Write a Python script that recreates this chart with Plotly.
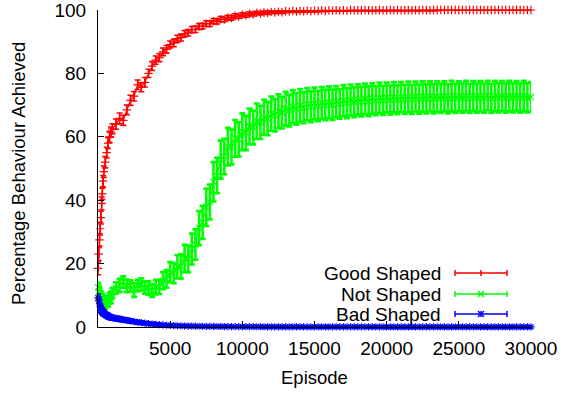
import plotly.graph_objects as go

# ---------------- data ----------------
episodes = [0, 50, 100, 150, 200, 250, 300, 350, 400, 500, 600, 700, 800, 900, 1000] + list(range(1250, 30001, 250))

good_mean = [
    18.5, 23.0, 27.5, 31.0, 34.5, 39.0, 42.0, 46.0, 49.0, 52.0, 55.0, 58.0, 60.0, 61.5, 62.5,
    64.0, 65.8, 65.2, 68.5, 71.5, 72.8, 76.4, 75.6, 77.2, 80.0,
    82.3, 84.2, 85.0, 86.8, 87.6, 89.1, 89.6, 90.9, 91.3, 92.5,
    92.8, 93.8, 93.9, 94.8, 94.9, 95.7, 95.7, 96.5, 96.4, 97.1,
    97.0, 97.6, 97.5, 98.1, 97.9, 98.5, 98.3, 98.8, 98.6, 99.1,
    98.9, 99.2, 99.1, 99.4, 99.2, 99.5, 99.3, 99.6, 99.5, 99.7,
    99.5, 99.7, 99.6, 99.8, 99.6, 99.8, 99.7, 99.9, 99.7, 99.9,
    99.8, 99.9, 99.8, 99.9, 99.8, 100.0, 99.9, 99.9, 99.9, 100.0,
    99.9, 99.9, 99.9, 100.0, 99.9, 99.9, 100.0, 99.9, 100.0, 99.9,
    99.9, 100.0, 99.9, 100.0, 99.9, 100.0, 100.0, 99.9, 100.0, 100.0,
    100.0, 100.0, 100.0, 100.0, 100.0, 100.0, 100.0, 100.0, 100.0, 100.0,
    100.0, 100.0, 100.0, 100.0, 100.0, 100.0, 100.0, 100.0, 100.0, 100.0,
    100.0, 100.0, 100.0, 100.0, 100.0, 100.0,
]
good_err = [
    2.0, 2.0, 2.0, 2.0, 2.0, 2.0, 1.8, 1.8, 1.8, 1.8, 1.7, 1.7, 1.7, 1.6, 1.6,
    1.6, 1.7, 1.6, 1.5, 1.6, 1.5, 1.5, 1.4, 1.5, 1.3,
    1.4, 1.3, 1.3, 1.2, 1.2, 1.1, 1.2, 1.1, 1.1, 1.0,
    1.0, 1.0, 1.0, 0.9, 0.9, 0.9, 0.9, 0.8, 0.8, 0.8,
    0.7, 0.7, 0.7, 0.7, 0.6, 0.6, 0.6, 0.6, 0.5, 0.5,
    0.5, 0.5, 0.5, 0.4, 0.4, 0.4, 0.4, 0.4, 0.3, 0.3,
    0.3, 0.3, 0.3, 0.3, 0.3, 0.3, 0.3, 0.2, 0.2, 0.2,
    0.2, 0.2, 0.2, 0.2, 0.2, 0.2, 0.2, 0.2, 0.2, 0.2,
    0.2, 0.2, 0.2, 0.2, 0.2, 0.2, 0.2, 0.2, 0.2, 0.2,
    0.2, 0.2, 0.2, 0.2, 0.2, 0.2, 0.2, 0.2, 0.2, 0.2,
    0.1, 0.1, 0.1, 0.1, 0.1, 0.1, 0.1, 0.1, 0.1, 0.1,
    0.1, 0.1, 0.1, 0.1, 0.1, 0.1, 0.1, 0.1, 0.1, 0.1,
    0.1, 0.1, 0.1, 0.1, 0.1, 0.1,
]

not_mean = [
    12.5, 11.2, 10.8, 9.5, 9.6, 8.6, 8.9, 7.9, 8.3, 7.5, 8.2, 8.0, 9.1, 9.3, 10.8,
    12.3, 13.1, 14.2, 13.0, 12.9, 11.7, 13.1, 13.4, 12.4, 12.3,
    11.5, 12.6, 12.6, 14.6, 15.2, 17.3, 17.0, 19.0, 19.1, 21.6,
    21.5, 24.6, 26.0, 31.2, 33.0, 37.8, 39.4, 45.8, 47.8, 52.8,
    53.8, 56.9, 56.8, 59.5, 59.2, 61.6, 61.2, 63.3, 62.9, 64.9,
    64.5, 66.2, 65.7, 67.3, 66.8, 68.1, 67.6, 68.9, 68.3, 69.5,
    68.8, 69.9, 69.2, 70.3, 69.5, 70.5, 69.7, 70.7, 70.0, 70.9,
    70.1, 71.1, 70.4, 71.4, 70.6, 71.6, 70.9, 71.8, 71.1, 72.0,
    71.2, 72.1, 71.4, 72.3, 71.5, 72.4, 71.6, 72.5, 71.7, 72.6,
    71.8, 72.6, 71.8, 72.7, 71.9, 72.7, 72.0, 72.8, 72.0, 72.7,
    72.1, 72.8, 72.0, 72.9, 72.1, 72.8, 72.2, 72.9, 72.1, 72.9,
    72.2, 72.8, 72.2, 73.0, 72.1, 72.9, 72.3, 72.9, 72.2, 72.9,
    72.3, 72.9, 72.2, 72.9, 72.3, 72.6,
]
not_err = [
    1.5, 1.8, 1.5, 1.7, 1.5, 1.6, 1.5, 1.8, 1.5, 1.7, 1.5, 1.6, 1.6, 1.8, 1.6,
    1.8, 2.1, 1.8, 2.0, 1.8, 2.2, 1.8, 2.0, 1.9, 2.1,
    2.0, 2.3, 2.2, 2.7, 2.8, 3.2, 3.2, 3.7, 3.8, 4.3,
    4.2, 4.9, 4.8, 5.4, 5.2, 5.9, 5.5, 6.2, 5.6, 6.0,
    5.6, 5.9, 5.5, 5.8, 5.4, 5.8, 5.4, 5.6, 5.3, 5.6,
    5.2, 5.5, 5.2, 5.4, 5.1, 5.3, 5.0, 5.3, 5.0, 5.2,
    5.0, 5.2, 4.9, 5.1, 4.9, 5.0, 4.8, 5.0, 4.8, 5.0,
    4.8, 4.9, 4.7, 4.9, 4.7, 4.9, 4.7, 4.8, 4.7, 4.8,
    4.7, 4.8, 4.6, 4.8, 4.6, 4.7, 4.6, 4.8, 4.6, 4.7,
    4.6, 4.8, 4.6, 4.7, 4.6, 4.8, 4.6, 4.7, 4.6, 4.8,
    4.6, 4.7, 4.6, 4.8, 4.6, 4.7, 4.6, 4.8, 4.6, 4.7,
    4.6, 4.8, 4.6, 4.7, 4.6, 4.8, 4.6, 4.7, 4.6, 4.8,
    4.6, 4.7, 4.6, 4.8, 4.6, 4.7,
]

bad_mean = [
    9.2, 8.3, 7.3, 6.4, 5.7, 5.2, 4.9, 4.6, 4.4, 4.0, 3.7, 3.4, 3.2, 3.0, 2.9,
    2.7, 2.5, 2.3, 2.1, 1.9, 1.7, 1.5, 1.35, 1.2, 1.05,
    0.95, 0.85, 0.75, 0.65, 0.55, 0.5, 0.45, 0.4, 0.35, 0.32,
    0.3, 0.27, 0.25, 0.23, 0.21, 0.2, 0.18, 0.17, 0.16, 0.15,
    0.14, 0.13, 0.12, 0.12, 0.11, 0.1, 0.1, 0.09, 0.09, 0.08,
    0.08, 0.07, 0.07, 0.07, 0.06, 0.06, 0.06, 0.05, 0.05, 0.05,
    0.05, 0.04, 0.04, 0.04, 0.04, 0.04, 0.04, 0.04, 0.04, 0.04,
    0.03, 0.03, 0.03, 0.03, 0.03, 0.03, 0.03, 0.03, 0.03, 0.03,
    0.03, 0.03, 0.03, 0.03, 0.02, 0.02, 0.02, 0.02, 0.02, 0.02,
    0.02, 0.02, 0.02, 0.02, 0.02, 0.02, 0.02, 0.02, 0.02, 0.02,
    0.02, 0.02, 0.02, 0.02, 0.02, 0.02, 0.02, 0.02, 0.02, 0.02,
    0.02, 0.02, 0.02, 0.02, 0.02, 0.02, 0.02, 0.02, 0.02, 0.02,
    0.02, 0.02, 0.02, 0.02, 0.02, 0.02,
]
bad_err = [
    1.2, 1.2, 1.2, 1.1, 1.1, 1.0, 1.0, 1.0, 0.9, 0.9, 0.9, 0.9, 0.8, 0.8, 0.8,
    0.8, 0.8, 0.7, 0.7, 0.7, 0.6, 0.6, 0.6, 0.5, 0.5,
    0.5, 0.45, 0.4, 0.4, 0.35, 0.35, 0.3, 0.3, 0.3, 0.25,
    0.25, 0.25, 0.2, 0.2, 0.2, 0.2, 0.2, 0.2, 0.2, 0.2,
    0.2, 0.2, 0.2, 0.2, 0.2, 0.2, 0.2, 0.2, 0.2, 0.2,
    0.2, 0.2, 0.2, 0.2, 0.2, 0.2, 0.2, 0.2, 0.2, 0.2,
    0.2, 0.2, 0.2, 0.2, 0.2, 0.2, 0.2, 0.2, 0.2, 0.2,
    0.2, 0.2, 0.2, 0.2, 0.2, 0.2, 0.2, 0.2, 0.2, 0.2,
    0.2, 0.2, 0.2, 0.2, 0.2, 0.2, 0.2, 0.2, 0.2, 0.2,
    0.2, 0.2, 0.2, 0.2, 0.2, 0.2, 0.2, 0.2, 0.2, 0.2,
    0.2, 0.2, 0.2, 0.2, 0.2, 0.2, 0.2, 0.2, 0.2, 0.2,
    0.2, 0.2, 0.2, 0.2, 0.2, 0.2, 0.2, 0.2, 0.2, 0.2,
    0.2, 0.2, 0.2, 0.2, 0.2, 0.2,
]

series_names = ["Good Shaped", "Not Shaped", "Bad Shaped"]
x_ticks = [5000, 10000, 15000, 20000, 25000, 30000]
y_ticks = [0, 20, 40, 60, 80, 100]
x_title = "Episode"
y_title = "Percentage Behaviour Achieved"

# ---------------- styles ----------------
W, H = 571, 393
ML, MR, MT, MB = 98, 40, 10, 66
FONT = "Liberation Sans, Arial, Helvetica, sans-serif"
FS = 19
FS_TITLE = 18.5
colors = ["#ff0000", "#00ff00", "#0000ff"]
symbols = ["cross-thin", "x-thin", "asterisk-open"]
err_thick = [1.6, 2.6, 1.5]

fig = go.Figure()
for name, ys, es, col, sym, et in zip(series_names,
                                      [good_mean, not_mean, bad_mean],
                                      [good_err, not_err, bad_err],
                                      colors, symbols, err_thick):
    fig.add_trace(go.Scatter(
        x=episodes, y=ys, name=name, mode="lines+markers",
        line=dict(color=col, width=1.2),
        marker=dict(symbol=sym, size=6, color=col, line=dict(color=col, width=1.2)),
        error_y=dict(type="data", array=es, visible=True, color=col, thickness=et, width=3),
        cliponaxis=False, showlegend=False,
    ))

# ---------------- pixel helpers (paper coordinates) ----------------
pw = W - ML - MR
ph = H - MT - MB

def px(x):
    return (x - ML) / pw

def py(y):
    return (H - MB - y) / ph

# axis titles
fig.add_annotation(x=px(314), y=py(378), xref="paper", yref="paper", text=x_title,
                   showarrow=False, xanchor="center", yanchor="middle",
                   font=dict(family=FONT, size=FS_TITLE, color="black"))
fig.add_annotation(x=px(18), y=py(174), xref="paper", yref="paper", text=y_title,
                   showarrow=False, xanchor="center", yanchor="middle", textangle=-90,
                   font=dict(family=FONT, size=FS_TITLE, color="black"))

# gnuplot-style key (text left, sample right)
key_rows = [273, 294, 314]
text_right = 443
s0, s1, smid = 455, 507, 481
for name, col, sym, yy in zip(series_names, colors, symbols, key_rows):
    fig.add_annotation(x=px(text_right), y=py(yy), xref="paper", yref="paper",
                       text=name, showarrow=False, xanchor="right", yanchor="middle",
                       font=dict(family=FONT, size=FS, color="black"))
    seg = dict(type="line", xref="paper", yref="paper", line=dict(color=col, width=1.5))
    fig.add_shape(x0=px(s0), x1=px(s1), y0=py(yy), y1=py(yy), **seg)
    for xe in (s0, s1):
        fig.add_shape(x0=px(xe), x1=px(xe), y0=py(yy - 3), y1=py(yy + 3), **seg)
    if sym == "cross-thin":
        fig.add_shape(x0=px(smid), x1=px(smid), y0=py(yy - 3), y1=py(yy + 3), **seg)
    else:
        fig.add_shape(x0=px(smid - 3), x1=px(smid + 3), y0=py(yy - 3), y1=py(yy + 3), **seg)
        fig.add_shape(x0=px(smid - 3), x1=px(smid + 3), y0=py(yy + 3), y1=py(yy - 3), **seg)
        if sym != "x-thin":
            fig.add_shape(x0=px(smid), x1=px(smid), y0=py(yy - 3), y1=py(yy + 3), **seg)

axis_common = dict(showgrid=False, zeroline=False, showline=True, linecolor="black",
                   linewidth=1, ticks="inside", ticklen=6, tickcolor="black",
                   tickfont=dict(family=FONT, size=FS, color="black"), mirror=False,
                   automargin=False, ticklabeloverflow="allow")

fig.update_layout(
    width=W, height=H,
    margin=dict(l=ML, r=MR, t=MT, b=MB),
    paper_bgcolor="white", plot_bgcolor="white",
    font=dict(family=FONT, size=FS, color="black"),
    xaxis=dict(range=[0, 30000], tickvals=x_ticks, ticktext=[str(v) for v in x_ticks],
               ticklabelstandoff=4, **axis_common),
    yaxis=dict(range=[0, 100], tickvals=y_ticks, ticktext=[str(v) for v in y_ticks],
               ticklabelstandoff=7, **axis_common),
)

fig.write_html("out.html")
